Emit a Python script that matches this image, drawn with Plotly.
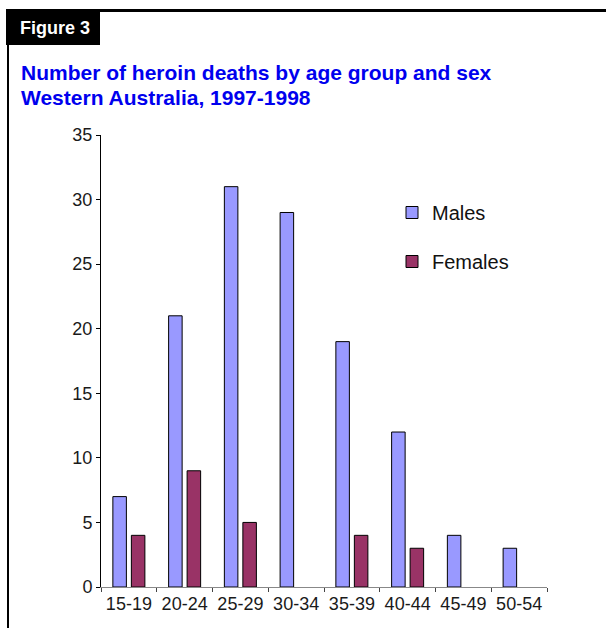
import plotly.graph_objects as go

age_groups = ["15-19", "20-24", "25-29", "30-34", "35-39", "40-44", "45-49", "50-54"]
males = [7, 21, 31, 29, 19, 12, 4, 3]
females = [4, 9, 5, 0, 4, 3, 0, 0]
y_ticks = [0, 5, 10, 15, 20, 25, 30, 35]

W, H = 606, 628
L, R, T, B = 101, 59, 135, 41
pw, ph = W - L - R, H - T - B

font = "Arial, Liberation Sans, sans-serif"

fig = go.Figure()
fig.add_trace(go.Bar(name="Males", x=age_groups, y=males, legendgroup="m",
                     marker=dict(color="#9999FF", line=dict(color="#000000", width=1))))
fig.add_trace(go.Bar(name="Females", x=age_groups, y=[v if v > 0 else None for v in females],
                     legendgroup="f",
                     marker=dict(color="#993366", line=dict(color="#000000", width=1))))


def px(x):
    return (x - L) / pw


def py(y):
    return (H - B - y) / ph


def pxs(x0, y0, x1, y1, **kw):
    return dict(type=kw.pop("type", "rect"), xref="paper", yref="paper",
                x0=px(x0), x1=px(x1), y0=py(y0), y1=py(y1), **kw)


frame = [
    pxs(6, 10.5, 606, 10.5, type="line", line=dict(color="black", width=3)),
    pxs(6, 9, 100, 45, type="rect", fillcolor="black", line=dict(width=0)),
    pxs(8, 45, 8, 628, type="line", line=dict(color="black", width=2)),
]

fig.update_layout(
    width=W, height=H,
    margin=dict(l=L, r=R, t=T, b=B),
    paper_bgcolor="white", plot_bgcolor="white",
    barmode="group", bargap=0.336, bargroupgap=0.27,
    showlegend=True,
    legend=dict(x=px(392), y=py(193), xanchor="left", yanchor="top",
                font=dict(family=font, size=20, color="#111111"),
                tracegroupgap=20, bgcolor="rgba(0,0,0,0)", itemwidth=30),
    xaxis=dict(showline=True, linecolor="#888888", linewidth=1, ticks="outside", tickson="boundaries",
               ticklen=4, tickcolor="#444444", tickfont=dict(family=font, size=18, color="#1a1a1a"),
               showgrid=False, zeroline=False),
    yaxis=dict(range=[0, 35], tickvals=y_ticks, showline=True, linecolor="#000000", linewidth=1,
               ticks="outside", ticklen=4, tickcolor="#000000",
               tickfont=dict(family=font, size=18, color="#1a1a1a"),
               showgrid=False, zeroline=False, fixedrange=True),
    shapes=frame,
)

fig.add_annotation(text="<b>Figure 3</b>", xref="paper", yref="paper",
                   x=px(18), y=py(28), xanchor="left", yanchor="middle",
                   showarrow=False, font=dict(family=font, size=18, color="white"))
fig.add_annotation(text="<b>Number of heroin deaths by age group and sex</b>",
                   xref="paper", yref="paper", x=px(19), y=py(72),
                   xanchor="left", yanchor="middle", align="left", showarrow=False,
                   font=dict(family=font, size=21, color="#0000EE"))
fig.add_annotation(text="<b>Western Australia, 1997-1998</b>",
                   xref="paper", yref="paper", x=px(19), y=py(97),
                   xanchor="left", yanchor="middle", align="left", showarrow=False,
                   font=dict(family=font, size=21, color="#0000EE"))

fig.write_html("out.html", config={"displayModeBar": False},
               post_script="document.body.style.margin='0';")
